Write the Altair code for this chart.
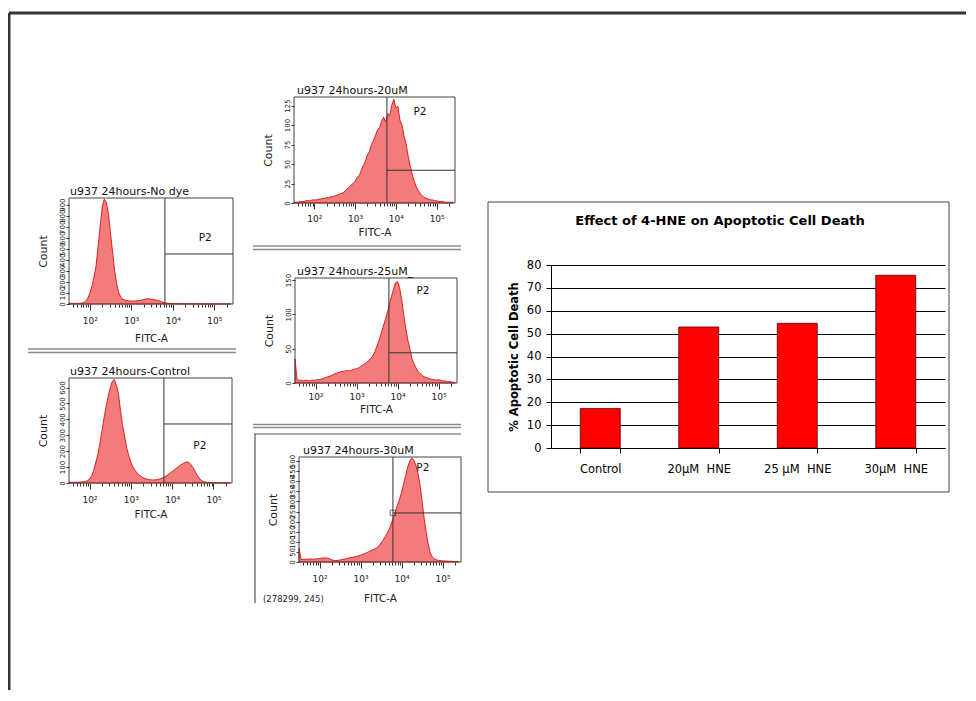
import math
import altair as alt
import pandas as pd

W, H = 958, 682


def vx(p):
    return p - 8


def vy(p):
    return p - 8


FONT = "DejaVu Sans"
DARK = "#333333"
HIST_FILL = "#f37b7b"
HIST_LINE = "#dd1010"
FRAME = "#444444"

# ---------------- bar chart data ----------------
bar_categories = ["Control", "20µM\u00a0 HNE", "25 µM\u00a0 HNE", "30µM\u00a0 HNE"]
bar_values = [17.3, 52.9, 54.5, 75.5]
bar_y_ticks = [0, 10, 20, 30, 40, 50, 60, 70, 80]
bar_title = "Effect of 4-HNE on Apoptotic Cell Death"
bar_y_title = "% Apoptotic Cell Death"

# ---------------- histogram data ----------------
bin_start = 1.5
bin_step = 0.05
x_domain = [1.5, 5.45]
decade_ticks = [2, 3, 4, 5]
decade_labels = ["10²", "10³", "10⁴", "10⁵"]

hist_titles = ["u937 24hours-No dye", "u937 24hours-Control", "u937 24hours-20uM",
               "u937 24hours-25uM_", "u937 24hours-30uM"]

counts_nodye = [8, 6, 5, 6, 5, 7, 8, 12, 25, 50,
                95, 160, 240, 340, 520, 700, 880, 950, 920, 820,
                640, 470, 300, 180, 100, 60, 42, 35, 30, 28,
                27, 26, 28, 30, 32, 35, 40, 45, 48, 45,
                42, 40, 35, 30, 25, 18, 12, 8, 6, 5,
                4, 3, 3, 3, 2, 2, 2, 2, 2, 2,
                2, 2, 1, 1, 1, 1, 1, 1, 1, 1,
                1, 1, 1, 1, 1, 1, 1, 1, 1]
counts_control = [5, 4, 4, 5, 5, 6, 7, 8, 10, 15,
                  25, 45, 80, 130, 180, 250, 330, 410, 480, 545,
                  600, 640, 650, 615, 560, 450, 360, 290, 220, 170,
                  130, 100, 80, 62, 50, 40, 33, 28, 24, 21,
                  20, 19, 20, 22, 26, 30, 36, 44, 52, 62,
                  72, 82, 92, 102, 112, 120, 128, 132, 130, 118,
                  98, 75, 52, 32, 18, 10, 6, 4, 3, 3,
                  2, 2, 2, 2, 1, 1, 1, 1, 1]
counts_20um = [1, 1, 1, 2, 2, 2, 3, 3, 3, 4,
               4, 4, 5, 5, 6, 6, 7, 7, 8, 8,
               9, 10, 11, 12, 13, 15, 18, 20, 23, 25,
               28, 33, 35, 42, 48, 53, 62, 66, 75, 80,
               87, 94, 97, 105, 110, 104, 115, 112, 126, 133,
               122, 124, 106, 100, 86, 76, 60, 48, 37, 28,
               21, 16, 12, 9, 7, 6, 5, 4, 4, 3,
               3, 2, 2, 2, 1, 1, 1, 1, 1]
counts_25um = [35, 5, 4, 4, 3, 4, 4, 3, 4, 4,
               4, 5, 5, 6, 7, 8, 9, 10, 11, 13,
               14, 15, 16, 17, 17, 18, 18, 18, 19, 20,
               21, 22, 24, 26, 28, 30, 33, 36, 40, 46,
               54, 62, 72, 82, 92, 102, 114, 126, 136, 146,
               148, 139, 122, 100, 80, 63, 50, 36, 28, 22,
               17, 14, 11, 9, 8, 7, 6, 5, 5, 4,
               5, 4, 3, 3, 2, 2, 2, 1, 1]
counts_30um = [70, 12, 13, 14, 14, 15, 15, 14, 15, 16,
               17, 19, 20, 20, 19, 15, 11, 8, 7, 8,
               10, 12, 14, 17, 19, 21, 23, 26, 28, 31,
               34, 38, 42, 46, 51, 56, 60, 65, 70, 80,
               94, 108, 125, 143, 162, 190, 218, 250, 282, 310,
               345, 385, 428, 470, 500, 515, 505, 480, 440, 383,
               305, 220, 150, 90, 45, 25, 15, 11, 8, 7,
               6, 5, 5, 4, 4, 3, 3, 2, 2]

yticks_nodye = [0, 100, 200, 300, 400, 500, 600, 700, 800, 900]
yticks_control = [0, 100, 200, 300, 400, 500, 600]
yticks_20um = [0, 25, 50, 75, 100, 125]
yticks_25um = [0, 50, 100, 150]
yticks_30um = [0, 50, 100, 150, 200, 250, 300, 350, 400, 450, 500]

gate_label = "P2"
cursor_text = "(278299, 245)"

# x axis tick positions (decades + minor log ticks)
x_ticks = []
for k in range(1, 6):
    for m in range(1, 10):
        v = round(k + math.log10(m), 4)
        if x_domain[0] <= v <= x_domain[1]:
            x_ticks.append(v)
label_expr = " : ".join(f"datum.value === {t} ? '{l}'" for t, l in zip(decade_ticks, decade_labels)) + " : ''"

panels = [
    dict(title=hist_titles[0], counts=counts_nodye, ymax=960, yticks=yticks_nodye,
         gate=(3.81, 453), p2=(4.78, 598), L=69, R=233, T=198, B=304, tdx=1, lpad=6, tpad=8),
    dict(title=hist_titles[1], counts=counts_control, ymax=660, yticks=yticks_control,
         gate=(3.80, 371), p2=(4.67, 233), L=69, R=232, T=378, B=483, tdx=1, lpad=6, tpad=5),
    dict(title=hist_titles[2], counts=counts_20um, ymax=136, yticks=yticks_20um,
         gate=(3.78, 42), p2=(4.59, 117), L=294, R=455, T=97, B=203, tdx=3, lpad=5, tpad=4),
    dict(title=hist_titles[3], counts=counts_25um, ymax=153, yticks=yticks_25um,
         gate=(3.79, 44), p2=(4.62, 134), L=295, R=457, T=278, B=383, tdx=2, lpad=3, tpad=3),
    dict(title=hist_titles[4], counts=counts_30um, ymax=520, yticks=yticks_30um,
         gate=(3.79, 243), p2=(4.52, 466), L=299, R=461, T=457, B=562, tdx=4, lpad=6, tpad=10),
]


def hist_panel(p, extra=False):
    xs = [round(bin_start + bin_step * i, 2) for i in range(len(p["counts"]))]
    df = pd.DataFrame({"d": xs, "n": p["counts"]})
    xsc = alt.Scale(domain=x_domain, range=[vx(p["L"]), vx(p["R"])], nice=False, zero=False)
    ysc = alt.Scale(domain=[0, p["ymax"]], range=[vy(p["B"]), vy(p["T"])], nice=False, zero=False)
    xaxis = alt.Axis(orient="bottom", offset=vy(p["B"]) - H, values=x_ticks, labelExpr=label_expr,
                     tickSize={"condition": {"test": "datum.value % 1 === 0", "value": 6}, "value": 3},
                     labelPadding=p["lpad"], labelFontSize=9, labelFlush=False, labelOverlap=False,
                     title="FITC-A", titleFontSize=10.5, titleFontWeight="normal", titlePadding=p["tpad"],
                     titleColor="#222222", domain=False, grid=False, tickColor=DARK, labelColor="#222222")
    yaxis = alt.Axis(orient="left", offset=-vx(p["L"]), values=p["yticks"], labelAngle=270,
                     labelAlign="center", labelBaseline="bottom", labelFontSize=7, labelPadding=1,
                     labelOverlap=False, labelFlush=False, tickSize=3, tickColor=DARK,
                     labelColor="#222222", title="Count", titleFontSize=11, titleFontWeight="normal",
                     titleColor="#222222", titlePadding=10, domain=False, grid=False)

    def X(f):
        return alt.X(f, scale=xsc, axis=xaxis)

    def Y(f):
        return alt.Y(f, scale=ysc, axis=yaxis)

    area = alt.Chart(df).mark_area(fill=HIST_FILL, stroke=HIST_LINE, strokeWidth=0.9).encode(
        x=X("d:Q"), y=Y("n:Q"), y2=alt.Y2Datum(0))
    fdf = pd.DataFrame({"d": [x_domain[0]], "d2": [x_domain[1]], "n": [0], "n2": [p["ymax"]]})
    frame = alt.Chart(fdf).mark_rect(fillOpacity=0, stroke=FRAME, strokeWidth=1).encode(
        x=X("d:Q"), x2="d2:Q", y=Y("n:Q"), y2="n2:Q")
    gx, gy = p["gate"]
    gdf = pd.DataFrame({"d": [gx, gx], "d2": [gx, x_domain[1]], "n": [0, gy], "n2": [p["ymax"], gy]})
    gates = alt.Chart(gdf).mark_rule(color=DARK, strokeWidth=1).encode(
        x=X("d:Q"), x2="d2:Q", y=Y("n:Q"), y2="n2:Q")
    pdf = pd.DataFrame({"d": [p["p2"][0]], "n": [p["p2"][1]], "t": [gate_label]})
    p2 = alt.Chart(pdf).mark_text(fontSize=10.5, color="#111111").encode(
        x=X("d:Q"), y=Y("n:Q"), text="t:N")
    hdf = pd.DataFrame({"d": [x_domain[0]], "n": [p["ymax"]], "t": [p["title"]]})
    ttl = alt.Chart(hdf).mark_text(align="left", baseline="bottom", dx=p["tdx"], dy=-1,
                                   fontSize=11, color="#111111").encode(
        x=X("d:Q"), y=Y("n:Q"), text="t:N")
    layers = [area, frame, gates, p2, ttl]
    if extra:
        mdf = pd.DataFrame({"d": [gx], "n": [gy]})
        mk = alt.Chart(mdf).mark_square(filled=False, size=30, color=DARK, strokeWidth=1).encode(
            x=X("d:Q"), y=Y("n:Q"))
        cdf = pd.DataFrame({"d": [x_domain[0]], "n": [0], "t": [cursor_text]})
        ct = alt.Chart(cdf).mark_text(align="left", baseline="middle", dx=-36, dy=37,
                                      fontSize=8.5, color="#222222").encode(
            x=X("d:Q"), y=Y("n:Q"), text="t:N")
        layers += [mk, ct]
    return alt.layer(*layers)


hist_layers = [hist_panel(p, extra=(i == 4)) for i, p in enumerate(panels)]

# ---------------- bar chart ----------------
bdf = pd.DataFrame({"cat": bar_categories, "val": bar_values})
one = pd.DataFrame({"k": [0]})
bxs = alt.Scale(domain=bar_categories, range=[vx(551), vx(945)], paddingInner=0.594, paddingOuter=0.297)
bys = alt.Scale(domain=[0, 80], range=[vy(448), vy(265)], nice=False, zero=False)
bars = alt.Chart(bdf).mark_bar(fill="#ff0000", stroke="#550000", strokeWidth=0.8).encode(
    x=alt.X("cat:N", scale=bxs,
            axis=alt.Axis(orient="bottom", offset=vy(448) - H, tickBand="extent", labelAngle=0,
                          labelFontSize=11.5, labelPadding=10, tickSize=5, title=None,
                          domainColor="black", tickColor="black", labelColor="black", grid=False)),
    y=alt.Y("val:Q", scale=bys,
            axis=alt.Axis(orient="left", offset=-vx(551), values=bar_y_ticks, grid=True,
                          gridColor="black", gridWidth=1, gridOpacity=1, tickSize=5, labelPadding=5,
                          labelFontSize=11.5, title=bar_y_title, titleFontSize=11.5,
                          titleFontWeight="bold", titlePadding=7, titleColor="black",
                          domainColor="black", tickColor="black", labelColor="black")),
)
bar_box = alt.Chart(one).mark_rect(fillOpacity=0, stroke="#444444", strokeWidth=1).encode(
    x=alt.value(vx(488)), x2=alt.value(vx(949)), y=alt.value(vy(202)), y2=alt.value(vy(492)))
bar_ttl = alt.Chart(one).mark_text(fontSize=13, fontWeight="bold", color="black").encode(
    x=alt.value(vx(720)), y=alt.value(vy(221)), text=alt.value(bar_title))
bar_layer = alt.layer(bar_box, bars, bar_ttl)

# ---------------- page decorations (frame, separators) ----------------
deco = pd.DataFrame([
    # x, x2, y, y2, colour, width
    (vx(9), vx(9), vy(13), H, "#333333", 3),
    (vx(9), W, vy(13), vy(13), "#333333", 3),
    (vx(28), vx(236), vy(349), vy(349), "#8c8c8c", 1.3),
    (vx(28), vx(236), vy(352.5), vy(352.5), "#8c8c8c", 1.3),
    (vx(253), vx(461), vy(246), vy(246), "#8c8c8c", 1.3),
    (vx(253), vx(461), vy(249.5), vy(249.5), "#8c8c8c", 1.3),
    (vx(253), vx(461), vy(424.5), vy(424.5), "#8c8c8c", 1.3),
    (vx(253), vx(461), vy(427.5), vy(427.5), "#8c8c8c", 1.3),
    (vx(254), vx(461), vy(434), vy(434), "#555555", 1.2),
    (vx(255), vx(255), vy(434), vy(603), "#555555", 1.2),
], columns=["x", "x2", "y", "y2", "c", "w"])
deco_layer = alt.Chart(deco).mark_rule().encode(
    x=alt.X("x:Q", scale=None), x2="x2:Q",
    y=alt.Y("y:Q", scale=None), y2="y2:Q",
    color=alt.Color("c:N", scale=None),
    strokeWidth=alt.StrokeWidth("w:Q", scale=None),
)

chart = alt.layer(*hist_layers, bar_layer, deco_layer).resolve_scale(
    x="independent", y="independent"
).properties(
    width=W, height=H, padding=0, autosize=alt.AutoSizeParams(type="none")
).configure(font=FONT).configure_view(strokeWidth=0)

chart.save("out.html", embed_options={"renderer": "svg", "actions": False})
